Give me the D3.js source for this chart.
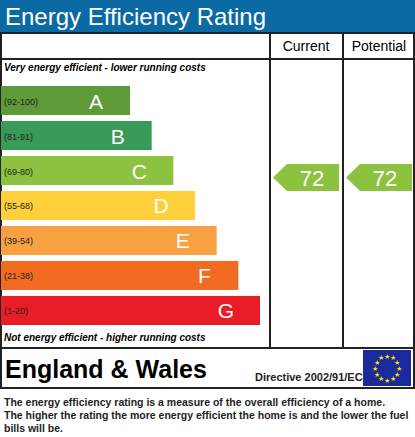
<!DOCTYPE html>
<html><head><meta charset="utf-8">
<script src="https://cdn.jsdelivr.net/npm/d3@7"></script>
<style>body{margin:0;background:#fff}svg{display:block;font-family:Arial,"Liberation Sans",sans-serif}</style>
</head><body><svg id="c" width="415" height="437"></svg>
<script>
const bands = ["A", "B", "C", "D", "E", "F", "G"];
const ranges = ["(92-100)", "(81-91)", "(69-80)", "(55-68)", "(39-54)", "(21-38)", "(1-20)"];
const colors = ["#5e9b38", "#3a9a57", "#8cc240", "#fdd03a", "#f7a143", "#f26b22", "#ea1c25"];
const currentRating = 72, potentialRating = 72;
const footnote = [
  "The energy efficiency rating is a measure of the overall efficiency of a home.",
  "The higher the rating the more energy efficient the home is and the lower the fuel",
  "bills will be."
];

const svg = d3.select("#c");
const y = d3.scaleBand().domain(bands).range([86, 325]).paddingInner(0.17).paddingOuter(0);
const w = d3.scaleLinear().domain([0, 6]).range([130, 260]);
const ratingBand = r => r >= 92 ? "A" : r >= 81 ? "B" : r >= 69 ? "C" : r >= 55 ? "D" : r >= 39 ? "E" : r >= 21 ? "F" : "G";

// title bar
svg.append("rect").attr("x", 0).attr("y", 0).attr("width", 415).attr("height", 32).attr("fill", "#0b69a3");
svg.append("text").attr("x", 5).attr("y", 25).attr("fill", "#fff").attr("font-size", 24).text("Energy Efficiency Rating");

// frame
const line = (x1, y1, x2, y2) => svg.append("line").attr("x1", x1).attr("y1", y1).attr("x2", x2).attr("y2", y2)
  .attr("stroke", "#222").attr("stroke-width", 2);
svg.append("rect").attr("x", 1).attr("y", 33).attr("width", 413).attr("height", 355).attr("fill", "none").attr("stroke", "#222").attr("stroke-width", 2);
line(0, 59, 415, 59);
line(270, 33, 270, 348);
line(343, 33, 343, 348);
line(0, 348, 415, 348);
svg.append("text").attr("x", 306).attr("y", 51).attr("text-anchor", "middle").attr("font-size", 14).text("Current");
svg.append("text").attr("x", 379).attr("y", 51).attr("text-anchor", "middle").attr("font-size", 14).text("Potential");

svg.append("text").attr("x", 4).attr("y", 71).attr("font-size", 10).attr("font-weight", "bold").attr("font-style", "italic")
  .text("Very energy efficient - lower running costs");
svg.append("text").attr("x", 4).attr("y", 341).attr("font-size", 10).attr("font-weight", "bold").attr("font-style", "italic")
  .text("Not energy efficient - higher running costs");

const rows = svg.selectAll("g.band").data(bands).enter().append("g").attr("class", "band")
  .attr("transform", d => `translate(1,${y(d)})`);
rows.append("rect").attr("width", (d, i) => w(i) - 1).attr("height", y.bandwidth()).attr("fill", (d, i) => colors[i]);
rows.append("text").attr("x", 3).attr("y", y.bandwidth() / 2 + 4).attr("font-size", 9).attr("fill", "#222")
  .text((d, i) => ranges[i]);
rows.append("text").attr("x", (d, i) => w(i) - 35).attr("y", y.bandwidth() / 2 + 8).attr("text-anchor", "middle")
  .attr("font-size", 21).attr("fill", "#fff").text(d => d);

// rating arrows
function arrow(x0, x1, r) {
  const b = ratingBand(r), i = bands.indexOf(b);
  const yc = y(b) + y.bandwidth() / 2 + 7, h = 27;
  svg.append("path").attr("d", `M${x0},${yc}L${x0 + 14},${yc - h / 2}L${x1},${yc - h / 2}L${x1},${yc + h / 2}L${x0 + 14},${yc + h / 2}Z`)
    .attr("fill", colors[i]);
  svg.append("text").attr("x", (x0 + x1) / 2 + 6).attr("y", yc + 8).attr("text-anchor", "middle")
    .attr("font-size", 22).attr("fill", "#fff").text(r);
}
arrow(273, 339, currentRating);
arrow(346, 412, potentialRating);

// footer
svg.append("text").attr("x", 5).attr("y", 378).attr("font-size", 25).attr("font-weight", "bold").text("England & Wales");
svg.append("text").attr("x", 255).attr("y", 381).attr("font-size", 11).attr("font-weight", "bold").attr("fill", "#222").text("Directive 2002/91/EC");
svg.append("rect").attr("x", 363).attr("y", 350).attr("width", 48).attr("height", 36).attr("fill", "#1a2a9a");
d3.range(12).forEach(k => {
  const a = k / 12 * 2 * Math.PI;
  svg.append("text").attr("x", 387 + 12 * Math.sin(a)).attr("y", 368 - 12 * Math.cos(a) + 2.5)
    .attr("text-anchor", "middle").attr("font-size", 7).attr("fill", "#ffdd00").text("★");
});
svg.selectAll("text.fn").data(footnote).enter().append("text").attr("class", "fn")
  .attr("x", 4).attr("y", (d, i) => 406 + i * 13).attr("font-size", 10.5).attr("font-weight", "bold").attr("fill", "#222").text(d => d);
</script></body></html>
